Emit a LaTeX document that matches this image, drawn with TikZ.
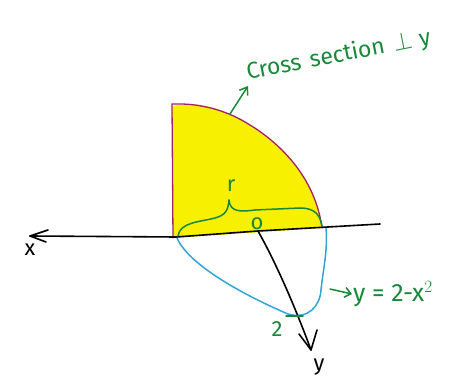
\documentclass[tikz,border=0pt]{standalone}
\usepackage{fontspec}
\setmainfont{Fira Sans}
\usepackage{tikz}
\usetikzlibrary{arrows.meta, calc}
\definecolor{crossfill}{HTML}{F7F000}
\definecolor{edge}{HTML}{A3206F}
\definecolor{note}{HTML}{18883A}
\definecolor{curve}{HTML}{2EA6D6}

\tikzset{
  axis/.style={black, line width=1.6pt, line cap=round},
  pen/.style={note, line width=1.5pt, line cap=round},
  notetext/.style={text=note, inner sep=1pt},
  axistext/.style={text=black, inner sep=1pt, font=\fontsize{22}{24}\selectfont}
}

\begin{document}
\begin{tikzpicture}[x=1pt, y=-1pt, font=\fontsize{22}{24}\selectfont]
  \useasboundingbox (0,0) rectangle (464,379);
  % cross section
  \fill[crossfill] (173,238) -- (172,106) .. controls (200,100) and (225,110) .. (245,122)
    .. controls (285,145) and (316,182) .. (322,228) -- cycle;
  \draw[edge, line width=1.3pt, line cap=round] (173,238) -- (172,104) -- (180,104)
    .. controls (200,104) and (225,110) .. (245,122)
    .. controls (285,145) and (316,182) .. (322,228);
  % base curve
  \draw[curve, line width=1.5pt, line cap=round] (177,238) .. controls (190,268) and (255,300) .. (288,314)
    .. controls (308,320) and (320,306) .. (321,290)
    .. controls (323,270) and (328,250) .. (326,228);
  % axes
  \coordinate (O) at (258,231);
  \coordinate (xend) at (30,236);
  \coordinate (yend) at (311,350);
  \draw[axis] (380,224) -- (O) -- (176,237) -- (xend);
  \draw[axis] (xend) -- ++(18,-6) (xend) -- ++(16,6);
  \draw[axis] (O) .. controls (280,270) and (300,320) .. (yend);
  \draw[axis] (yend) -- ++(-12,-16) (yend) -- ++(6,-20);
  \node[axistext] (xlab) at (30,250) {x};
  \node[axistext] (ylab) at (319,367) {y};
  % brace for r
  \draw[pen] (178,236) .. controls (180,222) and (200,222) .. (215,218)
    .. controls (226,215) and (228,210) .. (229,200);
  \draw[pen] (229,200) .. controls (230,212) and (240,212) .. (255,210) -- (300,208)
    .. controls (315,208) and (320,215) .. (322,226);
  \node[notetext] (rlab) at (231,186) {r};
  \node[notetext] (olab) at (257,224) {o};
  % label of the cut
  \coordinate (ctail) at (230,114);
  \node[notetext, rotate=11, anchor=south west, font=\fontsize{23}{25}\selectfont] (cut) at (248,86)
    {Cross\hspace{9pt}section\hspace{9pt}$\perp$\hspace{7pt}y};
  \draw[pen, -{Straight Barb[length=7pt, width=10pt]}] (ctail) -- (cut.south west);
  % label of the curve
  \coordinate (ftail) at (330,289);
  \node[notetext, anchor=west, font=\fontsize{25}{27}\selectfont] (fn) at (352,294) {y = 2-x$^{2}$};
  \draw[pen, -{Straight Barb[length=6pt, width=10pt]}] (ftail) -- (fn.west);
  % tick at 2
  \draw[pen] (286,316) -- (303,316);
  \node[notetext] (two) at (277,329) {2};
\end{tikzpicture}
\end{document}
